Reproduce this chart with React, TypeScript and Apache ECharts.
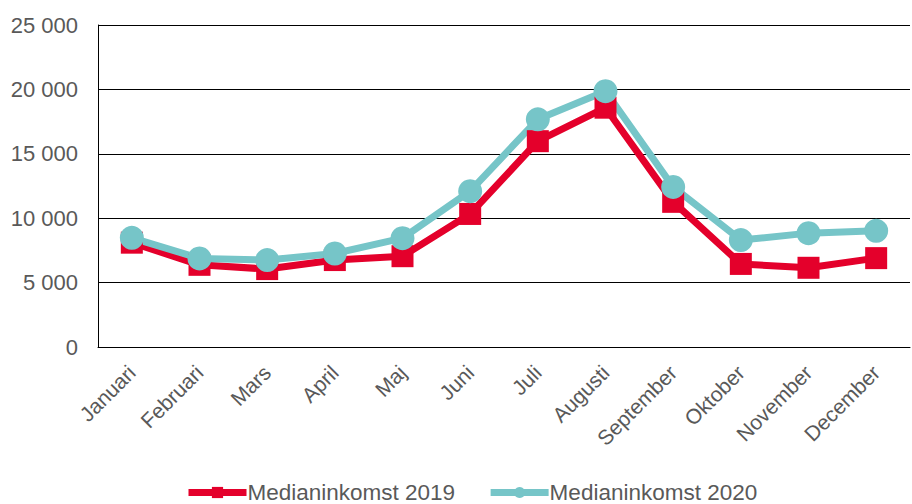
import React, { useEffect, useRef } from "react";
import * as echarts from "echarts";

const months = ["Januari", "Februari", "Mars", "April", "Maj", "Juni", "Juli", "Augusti", "September", "Oktober", "November", "December"];
const median2019 = [8100, 6380, 6050, 6750, 7050, 10330, 15980, 18580, 11270, 6450, 6150, 6900];
const median2020 = [8480, 6880, 6750, 7260, 8450, 12100, 17680, 19860, 12430, 8300, 8840, 9020];
const yTicks = { min: 0, max: 25000, interval: 5000 };

const fmt = (v: number) => {
  const s = String(Math.round(v));
  return s.replace(/\B(?=(\d{3})+(?!\d))/g, " ");
};

export default function App() {
  const ref = useRef<HTMLDivElement>(null);
  useEffect(() => {
    if (!ref.current) return;
    const chart = echarts.init(ref.current, undefined, { renderer: "svg" });
    const font = "Liberation Sans, Arial, sans-serif";
    chart.setOption({
      animation: false,
      backgroundColor: "#ffffff",
      textStyle: { fontFamily: font },
      grid: { left: 98, right: 2, top: 25, bottom: 157, containLabel: false },
      legend: {
        left: 180,
        top: 476,
        padding: 5,
        itemWidth: 58,
        itemHeight: 14,
        itemGap: 32,
        lineStyle: { width: 7 },
        textStyle: { fontFamily: font, fontSize: 22.5, color: "#595959", padding: [0, 0, 0, -4] },
        data: ["Medianinkomst 2019", "Medianinkomst 2020"],
      },
      xAxis: {
        type: "category",
        data: months,
        boundaryGap: true,
        axisLine: { lineStyle: { color: "#000000", width: 1 } },
        axisTick: { show: false },
        axisLabel: { rotate: 45, fontSize: 21, color: "#595959", fontFamily: font, margin: 22, interval: 0 },
      },
      yAxis: {
        type: "value",
        min: yTicks.min,
        max: yTicks.max,
        interval: yTicks.interval,
        axisLine: { show: true, lineStyle: { color: "#000000", width: 1 } },
        axisTick: { show: false },
        splitLine: { lineStyle: { color: "#000000", width: 1 } },
        axisLabel: { fontSize: 22, color: "#595959", fontFamily: font, margin: 20, formatter: fmt },
      },
      series: [
        {
          name: "Medianinkomst 2019",
          type: "line",
          data: median2019,
          symbol: "rect",
          symbolSize: 22,
          lineStyle: { color: "#e4002b", width: 7 },
          itemStyle: { color: "#e4002b" },
        },
        {
          name: "Medianinkomst 2020",
          type: "line",
          data: median2020,
          symbol: "circle",
          symbolSize: 24,
          lineStyle: { color: "#76c5c8", width: 7 },
          itemStyle: { color: "#76c5c8" },
        },
      ],
    });
    return () => chart.dispose();
  }, []);
  return (
    <div
      ref={ref}
      style={{ position: "fixed", left: 0, top: 0, width: 912, height: 504 }}
    />
  );
}
